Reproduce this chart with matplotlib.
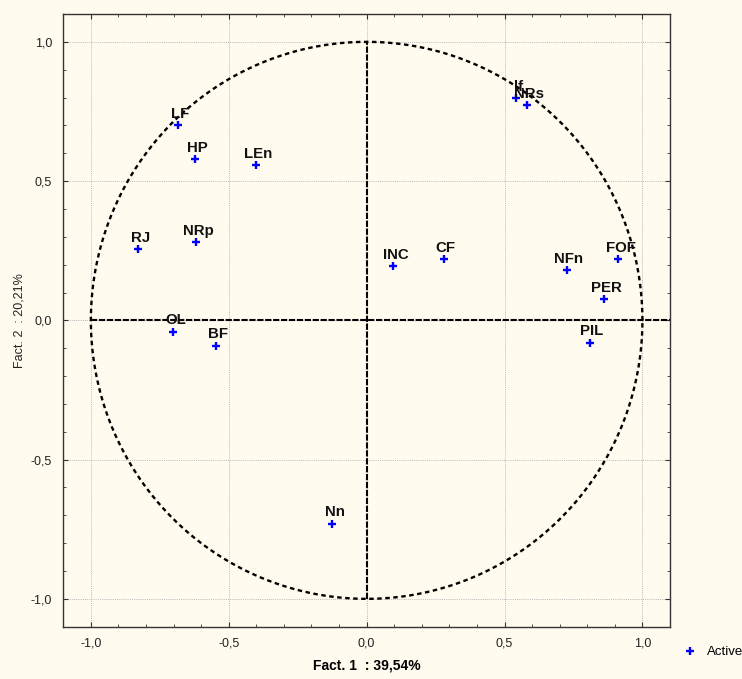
import numpy as np
import matplotlib
matplotlib.use("Agg")
import matplotlib.pyplot as plt
from matplotlib.ticker import MultipleLocator, FuncFormatter
from matplotlib.lines import Line2D

plt.rcParams['font.family'] = ['Liberation Sans', 'DejaVu Sans']

labels = ["LF", "HP", "LEn", "lf", "NRs", "RJ", "NRp", "OL", "BF", "Nn",
          "INC", "CF", "NFn", "FOF", "PER", "PIL"]
fact1 = [-0.685, -0.622, -0.402, 0.543, 0.582, -0.828, -0.618, -0.701, -0.545, -0.124,
         0.097, 0.279, 0.725, 0.913, 0.862, 0.809]
fact2 = [0.701, 0.579, 0.557, 0.797, 0.773, 0.255, 0.281, -0.041, -0.092, -0.731,
         0.194, 0.220, 0.179, 0.220, 0.075, -0.080]
xlabel = "Fact. 1  : 39,54%"
ylabel = "Fact. 2  : 20,21%"
legend_label = "Active"

bg = "#FFFBEF"
W, H = 742, 679
fig = plt.figure(figsize=(W / 100, H / 100), dpi=100, facecolor=bg)
ax = fig.add_axes([63.3 / W, 1 - 626.7 / H, (670 - 63.3) / W, (626.7 - 14) / H])
ax.set_facecolor(bg)
ax.set_xlim(-1.1, 1.1)
ax.set_ylim(-1.1, 1.1)

for a in (ax.xaxis, ax.yaxis):
    a.set_major_locator(MultipleLocator(0.5))
    a.set_minor_locator(MultipleLocator(0.1))
    a.set_major_formatter(FuncFormatter(lambda v, p: f"{v:.1f}".replace(".", ",").replace("-0,0", "0,0")))
ax.tick_params(which='both', direction='in', top=True, right=True, labelsize=9,
               color='#333333', labelcolor='#222222')
ax.tick_params(which='major', length=3.5, width=0.8, pad=8)
ax.tick_params(which='minor', length=2.2, width=0.6)
for s in ax.spines.values():
    s.set_color('#333333')
    s.set_linewidth(1.0)

ax.grid(which='major', color='#b8b8b8', linestyle=(0, (1, 1.2)), linewidth=0.7, zorder=0)
ax.set_axisbelow(True)

# unit circle
t = np.linspace(0, 2 * np.pi, 721)
ax.plot(np.cos(t), np.sin(t), color='black', linewidth=1.7,
        linestyle=(0, (1.9, 1.5)), zorder=2)
# axis lines
ax.plot([-1, 1.1], [0, 0], color='black', linewidth=1.5, linestyle=(0, (3, 0.8)), zorder=2)
ax.plot([0, 0], [-1, 1], color='black', linewidth=1.5, linestyle=(0, (3, 0.8)), zorder=2)

ax.plot(fact1, fact2, linestyle='none', marker='+', color='#0000ff',
        markersize=6, markeredgewidth=1.7, zorder=3)
for lab, x, y in zip(labels, fact1, fact2):
    ax.annotate(lab, (x, y), xytext=(1.5, 5.4), textcoords='offset points',
                ha='center', va='baseline', fontsize=10.8, fontweight='bold',
                color='#111111', zorder=4)

ax.set_xlabel(xlabel, fontsize=10, fontweight='bold', labelpad=6)
ax.set_ylabel(ylabel, fontsize=9, labelpad=4, color='#222222')

handle = Line2D([], [], linestyle='none', marker='+', color='#0000ff',
                markersize=6, markeredgewidth=1.7)
fig.legend([handle], [legend_label], loc='center left',
           bbox_to_anchor=(683 / W, 1 - 652 / H), frameon=False, fontsize=9.5,
           handlelength=1.0, handletextpad=0.8, borderpad=0, borderaxespad=0)

fig.savefig("out.png", dpi=100, facecolor=bg)
